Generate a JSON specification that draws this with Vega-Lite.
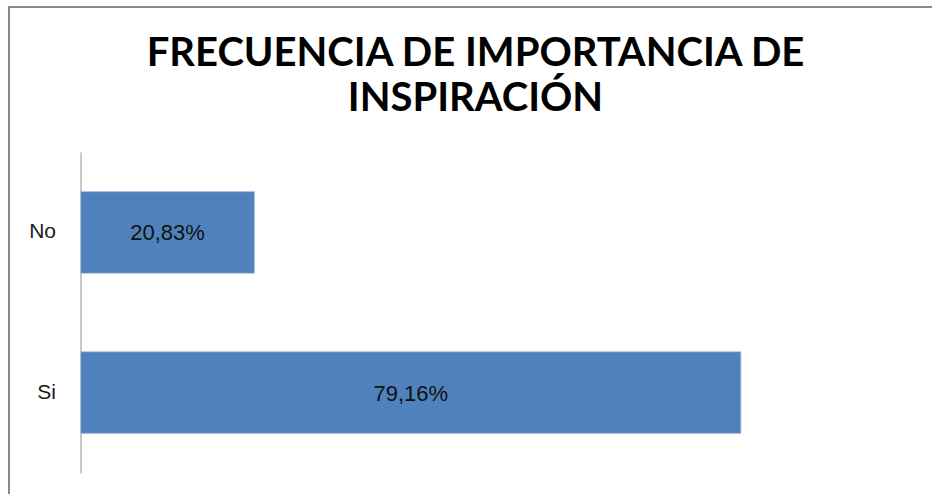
{
  "$schema": "https://vega.github.io/schema/vega-lite/v6.json",
  "autosize": "none",
  "width": 933,
  "height": 500,
  "padding": {"left": 9, "top": 7, "right": 0, "bottom": 0},
  "background": "white",
  "config": {
    "locale": {"number": {"decimal": ",", "thousands": ".", "grouping": [3], "currency": ["", " €"]}},
    "view": {"stroke": "#898989", "strokeWidth": 2}
  },
  "title": {
    "text": ["FRECUENCIA DE IMPORTANCIA DE", "INSPIRACIÓN"],
    "font": "Lato",
    "fontSize": 40,
    "fontWeight": "bold",
    "color": "#000000",
    "anchor": "middle",
    "frame": "group",
    "baseline": "alphabetic",
    "lineHeight": 45,
    "offset": -60,
    "dy": 84
  },
  "data": {"values": [
    {"respuesta": "No", "valor": 0.2083},
    {"respuesta": "Si", "valor": 0.7916}
  ]},
  "transform": [{"calculate": "datum.valor / 2", "as": "centro"}],
  "encoding": {
    "y": {
      "field": "respuesta", "type": "nominal", "sort": ["No", "Si"],
      "scale": {"range": [145, 466], "paddingInner": 0.49, "paddingOuter": 0.2475},
      "axis": {
        "title": null, "ticks": false, "offset": -71.5, "labelPadding": 25,
        "labelFont": "Liberation Sans", "labelFontSize": 21, "labelColor": "#1a1a1a",
        "domainColor": "#a6a6a6", "domainWidth": 1.2
      }
    }
  },
  "layer": [
    {
      "mark": {"type": "bar", "color": "#4f81bd", "stroke": "#a9c1e0", "strokeWidth": 0.8},
      "encoding": {
        "x": {"field": "valor", "type": "quantitative", "scale": {"domain": [0, 0.9], "range": [71.7, 822.3]}, "axis": null}
      }
    },
    {
      "mark": {"type": "text", "font": "Liberation Sans", "fontSize": 22, "color": "#111111", "align": "center", "baseline": "middle", "dy": 1},
      "encoding": {
        "x": {"field": "centro", "type": "quantitative"},
        "text": {"field": "valor", "type": "quantitative", "format": ".2%"}
      }
    }
  ]
}
